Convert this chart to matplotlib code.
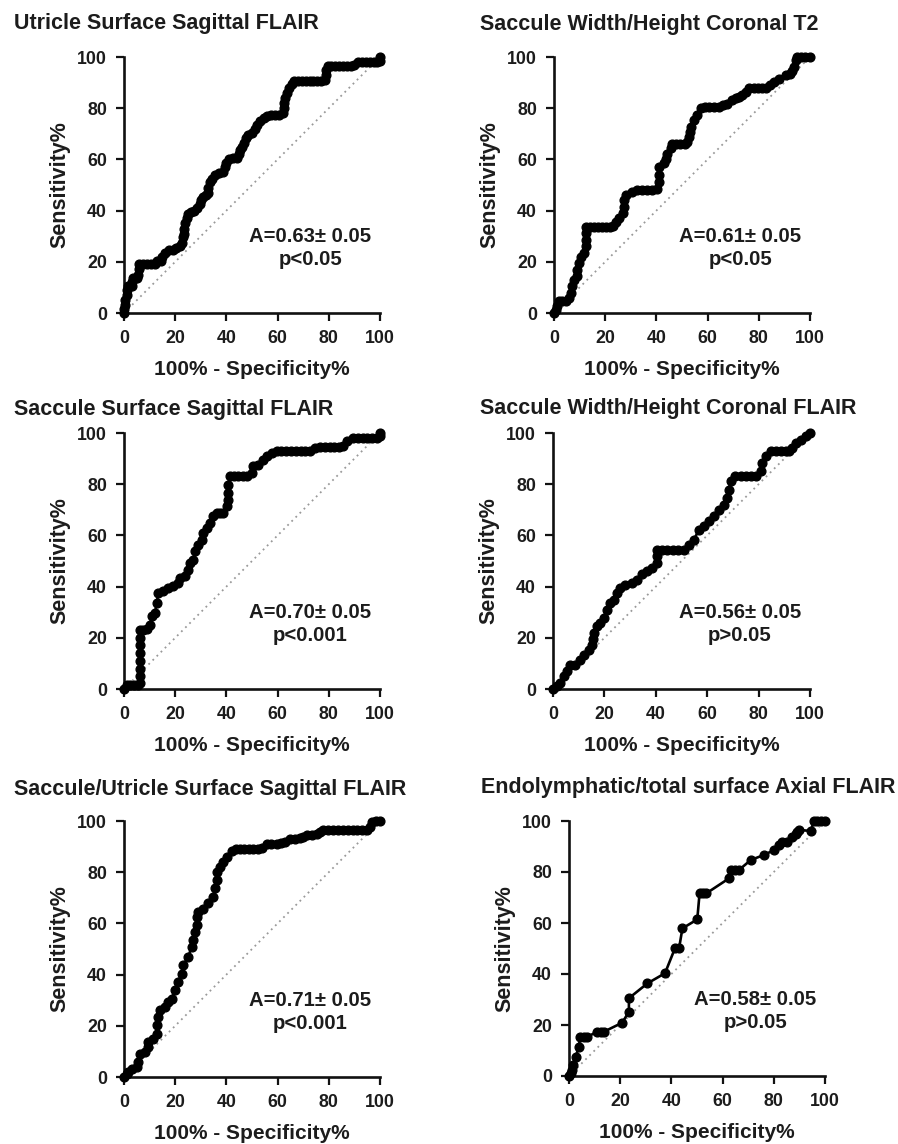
import matplotlib
matplotlib.use("Agg")
import matplotlib.pyplot as plt

plt.rcParams['font.family'] = ['Liberation Sans', 'DejaVu Sans']
plt.rcParams['font.weight'] = 'bold'

W, H = 898, 1144

titles = [
    "Utricle Surface Sagittal FLAIR",
    "Saccule Width/Height Coronal T2",
    "Saccule Surface Sagittal FLAIR",
    "Saccule Width/Height Coronal FLAIR",
    "Saccule/Utricle Surface Sagittal FLAIR",
    "Endolymphatic/total surface Axial FLAIR",
]
annotations = [
    "A=0.63\u00b1 0.05\np<0.05",
    "A=0.61\u00b1 0.05\np<0.05",
    "A=0.70\u00b1 0.05\np<0.001",
    "A=0.56\u00b1 0.05\np>0.05",
    "A=0.71\u00b1 0.05\np<0.001",
    "A=0.58\u00b1 0.05\np>0.05",
]
ticks = [0, 20, 40, 60, 80, 100]
xlabel = "100% - Specificity%"
ylabel = "Sensitivity%"

# Panel 1: Utricle Surface Sagittal FLAIR
roc1_x = [0, 0, 0.5, 0.5, 1, 1, 1.5, 3, 3, 3.5, 5, 5.5, 6, 6, 7.5, 9, 10.5, 12, 13, 14.5, 15, 16, 17.5, 19,
          20.5, 22, 22.5, 23, 23.5, 23.5, 24, 24.5, 25, 26, 27.5, 28.5, 29.5, 30, 31, 32, 33, 33, 33.5, 34.5,
          35.5, 37, 38.5, 39.5, 40, 41, 42.5, 44, 45, 45.5, 46, 47, 47.5, 48.5, 50, 51, 52, 53, 54.5, 56,
          57.5, 59, 60.5, 62, 62.5, 62.5, 63, 63.5, 64.5, 65.5, 66.5, 68, 69.5, 71, 72.5, 74, 75.5, 77, 78.5,
          79, 79, 79.5, 81, 82.5, 84, 85.5, 87, 88.5, 90, 91.5, 93, 94.5, 96, 97.5, 99, 100, 100]
roc1_y = [0, 1.5, 3, 5, 7, 9, 10.5, 10.5, 12, 13.5, 13.5, 15, 17, 19, 19, 19, 19, 19, 20.5, 20.5, 22, 23.5,
          24.5, 24.5, 25.5, 26, 27.5, 29.5, 31, 33, 35, 37, 38.5, 39.5, 40, 41, 42.5, 44, 45.5, 46, 47, 49,
          51, 52.5, 54, 54.5, 55, 57, 58.5, 60, 60.5, 60.5, 62, 63.5, 65, 66.5, 68.5, 69.5, 70.5, 72, 73.5,
          75, 76, 77, 77.5, 77.5, 77.5, 78, 80, 82, 84, 86, 88, 89.5, 90.5, 90.5, 90.5, 90.5, 90.5, 90.5,
          90.5, 90.5, 91, 93, 95, 96.5, 96.5, 96.5, 96.5, 96.5, 96.5, 96.5, 97, 98, 98, 98, 98, 98, 98,
          98.5, 100]

# Panel 2: Saccule Width/Height Coronal T2
roc2_x = [0, 0.7, 1.3, 2, 3.3, 4.6, 5.9, 6.5, 7.2, 7.8, 9.1, 9.1, 9.8, 10.4, 11.7, 12.4, 12.4, 12.4, 12.4,
          14, 15.6, 17.2, 18.8, 20.4, 22, 23.2, 24.2, 25.5, 26.8, 27.3, 27.3, 28.3, 30.3, 32.3, 34.3, 36.3,
          38.3, 40.2, 41, 41, 41, 43, 43.7, 44.3, 45.6, 45.9, 47.6, 49.3, 51, 52.1, 52.7, 53.1, 53.4, 54.7,
          56, 57.3, 59, 60.5, 62.5, 64.5, 66, 67.5, 69.7, 71, 72.3, 73.5, 75, 76.2, 78, 79.8, 81.4, 83,
          84.5, 86, 88, 90.5, 92, 93.1, 93.8, 94.4, 95, 96.5, 98, 100]
roc2_y = [0, 1.3, 2.6, 4.5, 4.5, 4.5, 5.8, 7.8, 10.4, 13, 14.3, 16.9, 19.5, 22, 23.4, 26, 28.6, 31.2, 33.4,
          33.4, 33.4, 33.4, 33.4, 33.4, 33.4, 34, 35.5, 37, 39, 41.6, 44.2, 46, 47.4, 48, 48, 48, 48, 48.5,
          51.3, 54, 57, 58.4, 60.3, 62.3, 64.3, 66.2, 66.2, 66.2, 66.2, 66.8, 68.8, 70.8, 72.7, 75.3, 77.3,
          79.9, 80.5, 80.5, 80.5, 80.5, 81.2, 81.8, 83.1, 83.8, 84.4, 85.2, 86.4, 87.7, 87.7, 87.7, 87.7,
          88, 89, 90.3, 91.6, 92.9, 93.5, 94.5, 96.1, 98.7, 100, 100, 100, 100]

# Panel 3: Saccule Surface Sagittal FLAIR
roc3_x = [0, 1, 2.5, 4, 5.6, 6.3, 6.3, 6.3, 6.3, 6.3, 6.3, 6.3, 6.3, 7.6, 8.9, 10.2, 10.8, 12.1, 12.8, 13.4,
          15.4, 17.3, 19.3, 21.2, 21.9, 23.8, 25.1, 25.8, 27.1, 27.7, 29, 30.3, 30.9, 32.3, 33.6, 34.9, 36.2,
          37.5, 38.8, 40.1, 40.5, 40.8, 40.8, 41.4, 43, 44.7, 46.3, 47.9, 49.9, 50.5, 52.5, 54.4, 55.7, 57.7,
          59.6, 61.5, 63.4, 65.3, 67.2, 69, 70.8, 72.7, 74.6, 76.5, 78.5, 80.3, 82.1, 83.9, 85.7, 87, 89.6,
          91.5, 93.3, 95, 96.8, 98.7, 100, 100]
roc3_y = [0, 1.7, 1.7, 1.7, 1.7, 2.3, 5, 8, 11, 14, 17, 20, 23.2, 23.2, 23.5, 25.1, 28.4, 29.7, 33.6, 37.5,
          38.2, 39.5, 40.1, 41.4, 43.4, 44, 46.6, 49.2, 50.5, 53.8, 56.4, 58.3, 60.9, 62.9, 64.8, 67.4, 68.8,
          68.8, 68.8, 71.4, 74, 76.6, 79.8, 83.1, 83.1, 83.1, 83.1, 83.3, 84.4, 87, 87.6, 89.6, 90.9, 92.2,
          92.8, 92.8, 92.8, 92.8, 92.8, 92.8, 92.8, 93, 94.1, 94.5, 94.5, 94.5, 94.5, 94.5, 94.8, 96.7, 98,
          98, 98, 98, 98, 98, 98.7, 100]

# Panel 4: Saccule Width/Height Coronal FLAIR
roc4_x = [0, 1.6, 2.9, 4.2, 5.5, 6.8, 8.7, 10.6, 11.9, 13.9, 15.2, 15.5, 15.8, 17.1, 18.4, 19.7, 21, 22.3,
          23.6, 24.9, 26.2, 28.2, 30.8, 32.7, 34.7, 36.6, 38.6, 40.5, 40.5, 40.5, 42.5, 44.5, 46.5, 48.5,
          50.9, 52.9, 54.8, 56.8, 58.7, 60.6, 62.6, 64.5, 66.5, 67.8, 68.4, 69.1, 71, 73, 75, 77, 78.8, 80.8,
          81.4, 82.7, 84.7, 86.7, 88.7, 90.7, 92, 93.1, 94.4, 96.4, 98.3, 100]
roc4_y = [0, 1, 2.3, 4.9, 6.9, 9.5, 9.5, 11.5, 13.4, 15.4, 17.3, 19.6, 21.9, 24.5, 25.8, 27.7, 31, 33.6,
          34.9, 37.5, 39.5, 40.8, 41.4, 42.7, 44.8, 46, 47.3, 49.2, 51.8, 54.4, 54.4, 54.4, 54.4, 54.4, 54.4,
          56.4, 58.3, 62.2, 63.5, 65.5, 67.4, 70.1, 72, 74.6, 77.9, 81.1, 83.1, 83.1, 83.1, 83.1, 83.1, 85,
          88.3, 90.9, 92.8, 92.8, 92.8, 92.8, 93, 94.1, 96.1, 97.4, 98.7, 100]

# Panel 5: Saccule/Utricle Surface Sagittal FLAIR
roc5_x = [0, 1, 1.7, 3, 4.9, 5.6, 6.3, 8.2, 9.5, 9.5, 11.5, 12.8, 12.8, 13.4, 14.1, 16, 17.3, 18.6, 19.9,
          21.2, 22.5, 23.2, 25.1, 26.4, 27.1, 27.7, 28.4, 28.4, 29, 31, 32.9, 34.9, 35.5, 36.2, 36.2, 37.5,
          38.8, 40.1, 42.1, 43.7, 45.3, 47, 48.7, 50.5, 52.2, 53.8, 55.7, 57.6, 59.6, 61.3, 62.9, 64.8, 66.8,
          68.8, 70.1, 71.4, 73.3, 75.3, 76.6, 77.9, 79.8, 81.7, 83.6, 85.5, 87.4, 89.3, 91.2, 93, 94.8, 96.1,
          96.7, 98.3, 100]
roc5_y = [0, 1.3, 2, 3.3, 3.9, 5.9, 9.1, 9.8, 11.7, 13.7, 15, 16.9, 20.2, 23.5, 26.1, 27.4, 29.3, 30.6,
          33.9, 37.2, 40.4, 43.7, 46.9, 50.8, 53.5, 56.7, 59.3, 62.6, 64.5, 65.8, 67.8, 70.4, 73.7, 76.9,
          80.2, 82.1, 84.1, 86.1, 88.4, 88.9, 88.9, 88.9, 88.9, 88.9, 89, 89.3, 91, 91, 91, 91.4, 91.9, 92.8,
          93, 93.2, 93.8, 94.5, 94.7, 94.9, 95.7, 96.5, 96.5, 96.5, 96.5, 96.5, 96.5, 96.5, 96.5, 96.5, 96.5,
          97.8, 99.7, 100, 100]

# Panel 6: Endolymphatic/total surface Axial FLAIR
roc6_x = [0, 0.7, 1.3, 1.6, 2.6, 3.9, 4.3, 5.7, 7.2, 11.1, 12.4, 13.7, 20.8, 23.4, 23.4, 30.6, 37.5, 41.4,
          43, 44.3, 50.1, 51, 52.3, 53.6, 62.5, 63.4, 64.9, 66.4, 71, 76.2, 80.1, 82, 83.3, 85.3, 87.2, 88.5,
          89.2, 89.8, 94.4, 95.7, 97, 98.5, 100]
roc6_y = [0, 1, 2.4, 4.3, 7.6, 11.5, 15.4, 15.4, 15.4, 17.4, 17.4, 17.4, 20.9, 25.2, 30.5, 36.3, 40.3, 50.1,
          50.1, 57.9, 61.4, 71.6, 71.6, 71.6, 77.5, 80.8, 80.8, 80.8, 84.7, 86.7, 88.6, 90.6, 91.9, 91.9,
          93.9, 95, 95.8, 96.5, 96.1, 100, 100, 100, 100]

curves = [(roc1_x, roc1_y), (roc2_x, roc2_y), (roc3_x, roc3_y),
          (roc4_x, roc4_y), (roc5_x, roc5_y), (roc6_x, roc6_y)]

# layout (pixels): axes left, right, top, bottom ; title left, baseline
axes_px = [(124, 380, 57, 313), (554, 810, 57, 313),
           (124, 380, 433, 689), (553, 810, 433, 689),
           (124, 380, 821, 1077), (569, 825, 821, 1076)]
title_px = [(14, 29), (480, 30), (14, 415), (480, 414), (14, 795), (481, 793)]

fig = plt.figure(figsize=(W / 100, H / 100), dpi=100)
fig.patch.set_facecolor('white')

textc = '#1c1c1c'
for i in range(6):
    l, r, t, b = axes_px[i]
    ax = fig.add_axes([l / W, (H - b) / H, (r - l) / W, (b - t) / H])
    ax.set_xlim(0, 100)
    ax.set_ylim(0, 100)
    ax.plot([0, 100], [0, 100], color='#999999', lw=1.3, linestyle=(0, (1, 2.2)), zorder=1)
    xs, ys = curves[i]
    ax.plot(xs, ys, color='black', lw=1.9, marker='o', markersize=6.3,
            markerfacecolor='black', markeredgecolor='black', clip_on=False, zorder=3)
    for s in ['top', 'right']:
        ax.spines[s].set_visible(False)
    for s in ['left', 'bottom']:
        ax.spines[s].set_linewidth(1.9)
        ax.spines[s].set_color('#111111')
    ax.set_xticks(ticks)
    ax.set_yticks(ticks)
    ax.tick_params(direction='out', length=5.8, width=1.6, pad=6.5, labelsize=12.8,
                   colors='#111111', labelcolor=textc)
    for lab in ax.get_xticklabels() + ax.get_yticklabels():
        lab.set_fontweight('bold')
    ax.set_xlabel(xlabel, fontsize=15, fontweight='bold', color=textc, va='center')
    ax.set_ylabel(ylabel, fontsize=15.5, fontweight='bold', color=textc, va='center')
    ax.xaxis.set_label_coords(0.5, -0.222)
    ax.yaxis.set_label_coords(-0.25, 0.5)
    ax.text(72.7, 25.5, annotations[i], ha='center', va='center', multialignment='center',
            fontsize=14.6, fontweight='bold', color=textc, linespacing=1.25)
    tx, ty = title_px[i]
    fig.text(tx / W, 1 - ty / H, titles[i], ha='left', va='baseline',
             fontsize=15.5, fontweight='bold', color=textc)

fig.savefig('out.png', dpi=100, facecolor='white')
